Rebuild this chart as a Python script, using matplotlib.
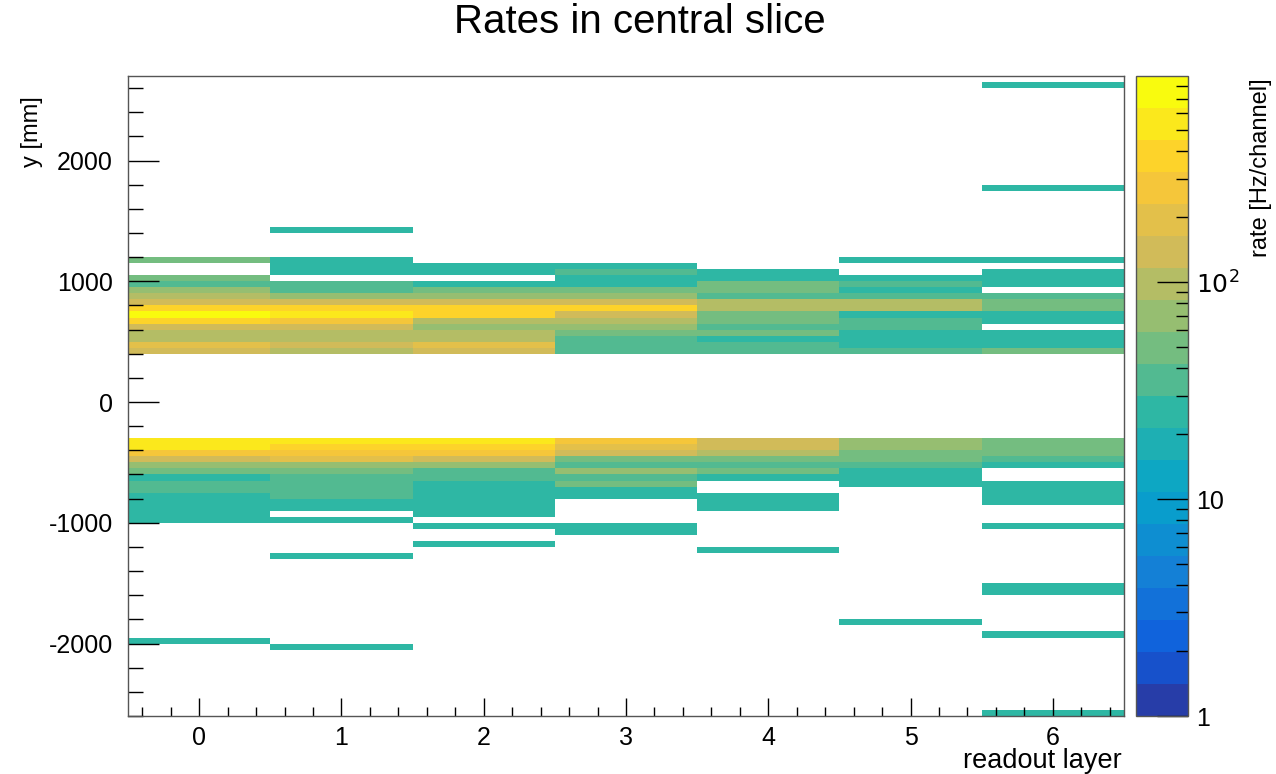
import numpy as np
import matplotlib
matplotlib.use('Agg')
import matplotlib.pyplot as plt
from matplotlib.colors import LinearSegmentedColormap, ListedColormap, LogNorm
from matplotlib.ticker import FixedLocator, MultipleLocator, LogLocator, NullFormatter

plt.rcParams['font.family'] = ['Liberation Sans', 'DejaVu Sans']
plt.rcParams['axes.unicode_minus'] = False

# rate per readout layer: (y_low [mm], y_high [mm], rate [Hz/channel])
layer0 = [(1150, 1200, 50), (1000, 1050, 50), (950, 1000, 35), (900, 950, 70),
          (850, 900, 100), (800, 850, 140), (750, 800, 380), (700, 750, 750),
          (650, 700, 380), (600, 650, 140), (550, 600, 100), (500, 550, 100),
          (450, 500, 195), (400, 450, 140),
          (-350, -300, 540), (-400, -350, 540), (-450, -400, 270), (-500, -450, 140),
          (-550, -500, 70), (-600, -550, 50), (-650, -600, 25), (-750, -650, 35),
          (-1000, -750, 25), (-2000, -1950, 25)]
layer1 = [(1400, 1450, 25), (1050, 1200, 25), (900, 1000, 35), (850, 900, 70),
          (800, 850, 140), (750, 800, 380), (700, 750, 540), (650, 700, 270),
          (600, 650, 140), (550, 600, 100), (500, 550, 100), (450, 500, 140),
          (400, 450, 100),
          (-350, -300, 540), (-400, -350, 380), (-450, -400, 270), (-500, -450, 195),
          (-550, -500, 70), (-600, -550, 50), (-800, -600, 35), (-900, -800, 25),
          (-1000, -950, 25), (-1300, -1250, 25), (-2050, -2000, 25)]
layer2 = [(1050, 1150, 25), (950, 1000, 25), (900, 950, 50), (850, 900, 70),
          (800, 850, 140), (750, 800, 380), (700, 750, 380), (650, 700, 100),
          (600, 650, 70), (550, 600, 100), (500, 550, 100), (450, 500, 195),
          (400, 450, 120),
          (-350, -300, 540), (-400, -350, 380), (-450, -400, 270), (-500, -450, 140),
          (-550, -500, 70), (-650, -550, 35), (-950, -650, 25), (-1050, -1000, 25),
          (-1200, -1150, 25)]
layer3 = [(1100, 1150, 25), (1050, 1100, 35), (950, 1050, 25), (900, 950, 50),
          (850, 900, 70), (800, 850, 140), (750, 800, 380), (700, 750, 140),
          (650, 700, 100), (600, 650, 70), (550, 600, 50), (500, 550, 35),
          (400, 500, 35),
          (-350, -300, 270), (-400, -350, 195), (-450, -400, 140), (-500, -450, 50),
          (-550, -500, 35), (-600, -550, 70), (-650, -600, 35), (-700, -650, 50),
          (-800, -700, 25), (-1100, -1000, 25)]
layer4 = [(1000, 1100, 25), (900, 1000, 50), (850, 900, 35), (750, 850, 100),
          (650, 750, 50), (600, 650, 35), (550, 600, 50), (500, 550, 25),
          (400, 500, 35),
          (-400, -300, 140), (-450, -400, 100), (-500, -450, 50), (-550, -500, 35),
          (-600, -550, 50), (-650, -600, 25), (-900, -750, 25), (-1250, -1200, 25)]
layer5 = [(1150, 1200, 25), (1000, 1050, 25), (950, 1000, 35), (900, 950, 25),
          (850, 900, 35), (750, 850, 100), (700, 750, 25), (600, 700, 35),
          (450, 600, 25), (400, 450, 35),
          (-400, -300, 70), (-500, -400, 50), (-550, -500, 35), (-700, -550, 25),
          (-1850, -1800, 25)]
layer6 = [(2600, 2650, 25), (1750, 1800, 25), (1150, 1200, 25), (950, 1100, 25),
          (850, 900, 35), (750, 850, 50), (650, 750, 25), (450, 600, 25),
          (400, 450, 50),
          (-450, -300, 50), (-500, -450, 35), (-550, -500, 25), (-850, -650, 25),
          (-1050, -1000, 25), (-1600, -1500, 25), (-1950, -1900, 25),
          (-2600, -2550, 25)]
layers = [layer0, layer1, layer2, layer3, layer4, layer5, layer6]

y_min, y_max, y_bin = -2600, 2700, 50
z_min, z_max = 1, 10 ** 2.95

# build the 2D histogram
x_edges = np.arange(len(layers) + 1) - 0.5
y_edges = np.arange(y_min, y_max + y_bin, y_bin)
z = np.full((len(y_edges) - 1, len(layers)), np.nan)
for ix, runs in enumerate(layers):
    for lo, hi, rate in runs:
        z[(y_edges[:-1] >= lo) & (y_edges[1:] <= hi), ix] = rate

# ROOT kBird palette, 20 contours
stops = [0.0, 0.125, 0.25, 0.375, 0.5, 0.625, 0.75, 0.875, 1.0]
red = [0.2082, 0.0592, 0.0780, 0.0232, 0.1802, 0.5301, 0.8186, 0.9956, 0.9764]
green = [0.1664, 0.3599, 0.5041, 0.6419, 0.7178, 0.7492, 0.7328, 0.7862, 0.9832]
blue = [0.5293, 0.8684, 0.8385, 0.7914, 0.6425, 0.4662, 0.3499, 0.1968, 0.0539]
bird = LinearSegmentedColormap.from_list(
    'bird', [(s, (r, g, b)) for s, r, g, b in zip(stops, red, green, blue)], N=255)
ncont = 20
cols = [bird(int((i + 0.99) * 255 / ncont)) for i in range(ncont)]
cmap = ListedColormap(cols)

fig = plt.figure(figsize=(12.76, 7.74), dpi=100)
W, H = 1276, 774
ax = fig.add_axes([128 / W, 1 - 716 / H, (1124 - 128) / W, (716 - 76) / H])
cax = fig.add_axes([1136 / W, 1 - 716 / H, (1188 - 1136) / W, (716 - 76) / H])

mesh = ax.pcolormesh(x_edges, y_edges, z, cmap=cmap,
                     norm=LogNorm(vmin=z_min, vmax=z_max), antialiased=False)
ax.set_xlim(-0.5, 6.5)
ax.set_ylim(y_min, y_max)

ax.xaxis.set_major_locator(MultipleLocator(1))
ax.xaxis.set_minor_locator(MultipleLocator(0.2))
ax.yaxis.set_major_locator(MultipleLocator(1000))
ax.yaxis.set_minor_locator(MultipleLocator(200))
ax.tick_params(axis='x', which='major', direction='in', length=13, width=1,
               labelsize=18, pad=7, top=False)
ax.tick_params(axis='x', which='minor', direction='in', length=6.5, width=1, top=False)
ax.tick_params(axis='y', which='major', direction='in', length=22, width=1,
               labelsize=18, pad=11, right=False)
ax.tick_params(axis='y', which='minor', direction='in', length=11, width=1, right=False)
for s in ax.spines.values():
    s.set_color('#555555')
    s.set_linewidth(1)

cb = fig.colorbar(mesh, cax=cax)
cb.outline.set_edgecolor('#555555')
cb.outline.set_linewidth(1)
cax.yaxis.set_ticks_position('right')
cax.yaxis.set_major_locator(FixedLocator([1, 10, 100]))
cax.yaxis.set_minor_locator(LogLocator(base=10, subs=np.arange(2, 10)))
cax.yaxis.set_minor_formatter(NullFormatter())
cax.set_yticklabels(['1', '10', '$10^{2}$'])
cax.tick_params(which='major', direction='in', length=22, width=1, labelsize=18, pad=6)
cax.tick_params(which='minor', direction='in', length=9, width=1)

fig.text(640 / W, 1 - 22 / H, 'Rates in central slice', ha='center', va='center',
         fontsize=29)
fig.text(32 / W, 1 - 96 / H, 'y [mm]', rotation=90, ha='center', va='top', fontsize=17)
fig.text(1122 / W, 1 - 768 / H, 'readout layer', ha='right', va='baseline', fontsize=19.5)
fig.text(1261 / W, 1 - 78 / H, 'rate [Hz/channel]', rotation=90, ha='center', va='top',
         fontsize=17)

fig.savefig('out.png', dpi=100)
